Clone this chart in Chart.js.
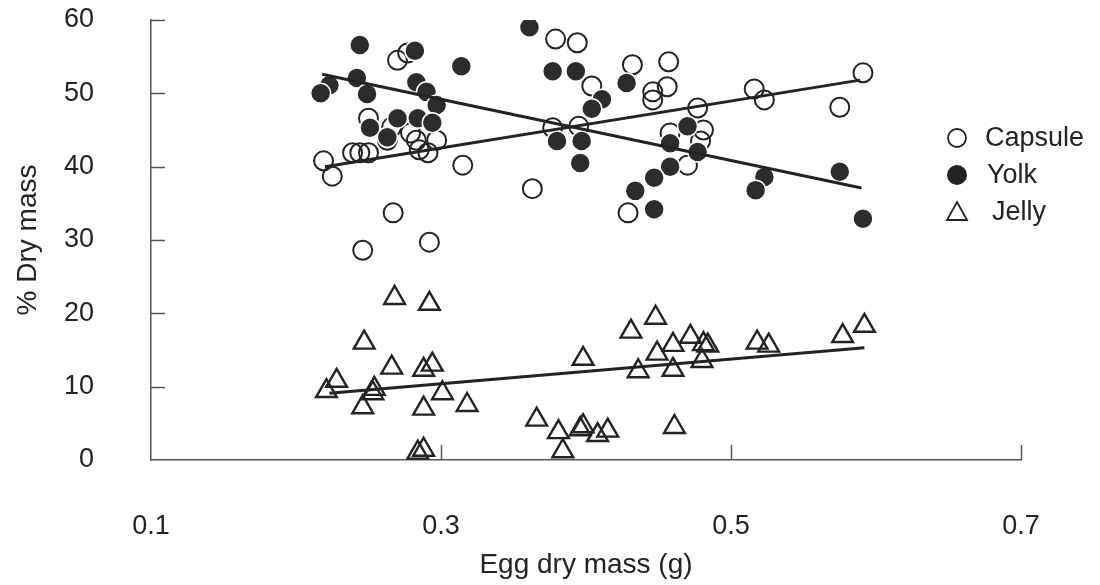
<!DOCTYPE html>
<html>
<head>
<meta charset="utf-8">
<title>Egg dry mass composition</title>
<script src="https://cdn.jsdelivr.net/npm/chart.js@4.4.1/dist/chart.umd.min.js"></script>
<style>
  html, body { margin: 0; padding: 0; background: #fff; }
  #wrap { position: relative; width: 1100px; height: 585px; }
</style>
</head>
<body>
<div id="wrap"><canvas id="eggChart" width="1100" height="585"></canvas></div>
<script>
// axis ticks
const xTicks = [0.1, 0.3, 0.5, 0.7];
const yTicks = [0, 10, 20, 30, 40, 50, 60];

// capsule share of egg dry mass
const capsuleMass = [0.219, 0.225, 0.239, 0.244, 0.250, 0.250, 0.266, 0.263, 0.279, 0.283,
  0.285, 0.291, 0.297, 0.270, 0.277, 0.315, 0.267, 0.246, 0.292, 0.379,
  0.394, 0.404, 0.432, 0.457, 0.446, 0.456, 0.446, 0.377, 0.395, 0.363,
  0.429, 0.477, 0.481, 0.479, 0.470, 0.458, 0.516, 0.523, 0.591, 0.575];
const capsulePct = [40.8, 38.7, 41.9, 41.9, 41.9, 46.6, 45.4, 43.6, 44.6, 43.6,
  42.3, 41.9, 43.6, 54.5, 55.5, 40.2, 33.7, 28.6, 29.7, 57.4,
  56.9, 51.0, 53.9, 54.3, 50.2, 50.9, 49.1, 45.3, 45.5, 37.0,
  33.7, 48.0, 45.0, 43.5, 40.2, 44.6, 50.6, 49.1, 52.8, 48.1];

// yolk share
const yolkMass = [0.244, 0.282, 0.314, 0.223, 0.217, 0.242, 0.249, 0.283, 0.290, 0.297,
  0.251, 0.263, 0.270, 0.284, 0.294, 0.361, 0.377, 0.393, 0.411, 0.404,
  0.428, 0.380, 0.397, 0.396, 0.470, 0.458, 0.477, 0.458, 0.447, 0.434,
  0.447, 0.523, 0.517, 0.575, 0.591];
const yolkPct = [56.6, 55.8, 53.7, 51.1, 50.0, 52.1, 49.9, 51.5, 50.2, 48.4,
  45.3, 44.0, 46.6, 46.6, 46.0, 59.0, 53.0, 53.0, 49.2, 47.9,
  51.4, 43.5, 43.5, 40.5, 45.5, 43.2, 42.0, 40.0, 38.5, 36.7,
  34.2, 38.6, 36.8, 39.3, 32.9];

// jelly share
const jellyMass = [0.268, 0.292, 0.247, 0.266, 0.288, 0.294, 0.228, 0.221, 0.254, 0.253,
  0.246, 0.301, 0.288, 0.318, 0.366, 0.284, 0.288, 0.398, 0.431, 0.448,
  0.460, 0.449, 0.436, 0.460, 0.472, 0.481, 0.484, 0.480, 0.518, 0.526,
  0.577, 0.592, 0.381, 0.398, 0.396, 0.408, 0.415, 0.384, 0.461];
const jellyPct = [22.1, 21.3, 16.0, 12.6, 12.3, 13.0, 10.8, 9.4, 9.7, 9.1,
  7.2, 9.1, 7.0, 7.5, 5.5, 1.0, 1.4, 13.8, 17.5, 19.4,
  15.7, 14.5, 12.1, 12.3, 16.8, 15.8, 15.6, 13.5, 16.0, 15.6,
  16.9, 18.3, 3.8, 4.6, 4.2, 3.4, 4.0, 1.2, 4.5];

// fitted regression lines (end points)
const capsuleFitX = [0.220, 0.589], capsuleFitY = [40.0, 51.8];
const yolkFitX = [0.218, 0.590], yolkFitY = [52.6, 37.1];
const jellyFitX = [0.223, 0.592], jellyFitY = [9.1, 15.3];

const ink = '#232323';
const font = "'Liberation Sans', Arial, sans-serif";

const pts = (xs, ys) => xs.map((x, i) => ({ x, y: ys[i] }));

const fitLine = (xs, ys) => ({
  type: 'line',
  data: pts(xs, ys),
  borderColor: ink,
  borderWidth: 3,
  pointRadius: 0,
  showLine: true,
  fill: false
});

// inward tick marks and the side legend
const marks = {
  id: 'marks',
  afterDraw(chart) {
    const { ctx, chartArea: a, scales: { x, y } } = chart;
    ctx.save();
    ctx.strokeStyle = '#555';
    ctx.lineWidth = 1.5;
    yTicks.slice(1).forEach(v => {
      const py = Math.round(y.getPixelForValue(v)) + 0.5;
      ctx.beginPath(); ctx.moveTo(a.left, py); ctx.lineTo(a.left + 14, py); ctx.stroke();
    });
    xTicks.slice(1).forEach(v => {
      const px = Math.round(x.getPixelForValue(v)) + 0.5;
      ctx.beginPath(); ctx.moveTo(px, a.bottom); ctx.lineTo(px, a.bottom - 15); ctx.stroke();
    });

    // legend
    const items = [
      { label: 'Capsule', kind: 'open', cy: 138, tx: 985 },
      { label: 'Yolk', kind: 'filled', cy: 175, tx: 987 },
      { label: 'Jelly', kind: 'tri', cy: 212, tx: 992 }
    ];
    ctx.font = '27px ' + font;
    ctx.fillStyle = ink;
    ctx.textBaseline = 'middle';
    items.forEach(it => {
      const cx = 957;
      ctx.strokeStyle = ink;
      ctx.lineWidth = 1.8;
      ctx.beginPath();
      if (it.kind === 'open') {
        ctx.arc(cx, it.cy, 9, 0, Math.PI * 2); ctx.stroke();
      } else if (it.kind === 'filled') {
        ctx.arc(cx, it.cy, 10, 0, Math.PI * 2); ctx.fill();
      } else {
        ctx.moveTo(cx, it.cy - 10); ctx.lineTo(cx + 10, it.cy + 8); ctx.lineTo(cx - 10, it.cy + 8);
        ctx.closePath(); ctx.stroke();
      }
      ctx.fillText(it.label, it.tx, it.cy + 1);
    });
    ctx.restore();
  }
};

new Chart(document.getElementById('eggChart'), {
  type: 'scatter',
  data: {
    datasets: [
      fitLine(capsuleFitX, capsuleFitY),
      fitLine(yolkFitX, yolkFitY),
      fitLine(jellyFitX, jellyFitY),
      {
        label: 'Yolk',
        data: pts(yolkMass, yolkPct),
        pointStyle: 'circle',
        pointRadius: 10,
        backgroundColor: '#2c2c2c',
        borderColor: '#fff',
        borderWidth: 1.5
      },
      {
        label: 'Capsule',
        data: pts(capsuleMass, capsulePct),
        pointStyle: 'circle',
        pointRadius: 9.5,
        backgroundColor: 'rgba(0,0,0,0)',
        borderColor: ink,
        borderWidth: 2
      },
      {
        label: 'Jelly',
        data: pts(jellyMass, jellyPct),
        pointStyle: 'triangle',
        pointRadius: 12,
        backgroundColor: 'rgba(0,0,0,0)',
        borderColor: ink,
        borderWidth: 2.4
      }
    ]
  },
  options: {
    responsive: false,
    animation: false,
    devicePixelRatio: 1,
    layout: { padding: { top: 20, right: 79, left: 0, bottom: 0 } },
    plugins: { legend: { display: false }, tooltip: { enabled: false } },
    scales: {
      x: {
        type: 'linear',
        min: 0.1, max: 0.7,
        afterFit: s => { s.height = 125; },
        afterBuildTicks: s => { s.ticks = xTicks.map(v => ({ value: v })); },
        grid: { display: false, drawTicks: false },
        border: { display: true, color: '#555', width: 1.5 },
        ticks: {
          padding: 50,
          color: ink,
          font: { family: font, size: 27 },
          callback: v => v.toFixed(1)
        },
        title: {
          display: true,
          text: 'Egg dry mass (g)',
          color: ink,
          font: { family: font, size: 28 },
          padding: { top: 0, bottom: 3 }
        }
      },
      y: {
        type: 'linear',
        min: 0, max: 60,
        afterFit: s => {
          s.width = 151;
          // keep the label padding from pushing the plot area down
          s.paddingTop = 0;
          s.paddingBottom = 0;
        },
        afterBuildTicks: s => { s.ticks = yTicks.map(v => ({ value: v })); },
        grid: { display: false, drawTicks: false },
        border: { display: true, color: '#555', width: 1.5 },
        ticks: {
          padding: 57,
          color: ink,
          font: { family: font, size: 27 }
        },
        title: {
          display: true,
          text: '% Dry mass',
          color: ink,
          font: { family: font, size: 28 },
          padding: { top: 11, bottom: 0 }
        }
      }
    }
  },
  plugins: [marks]
});
</script>
</body>
</html>
